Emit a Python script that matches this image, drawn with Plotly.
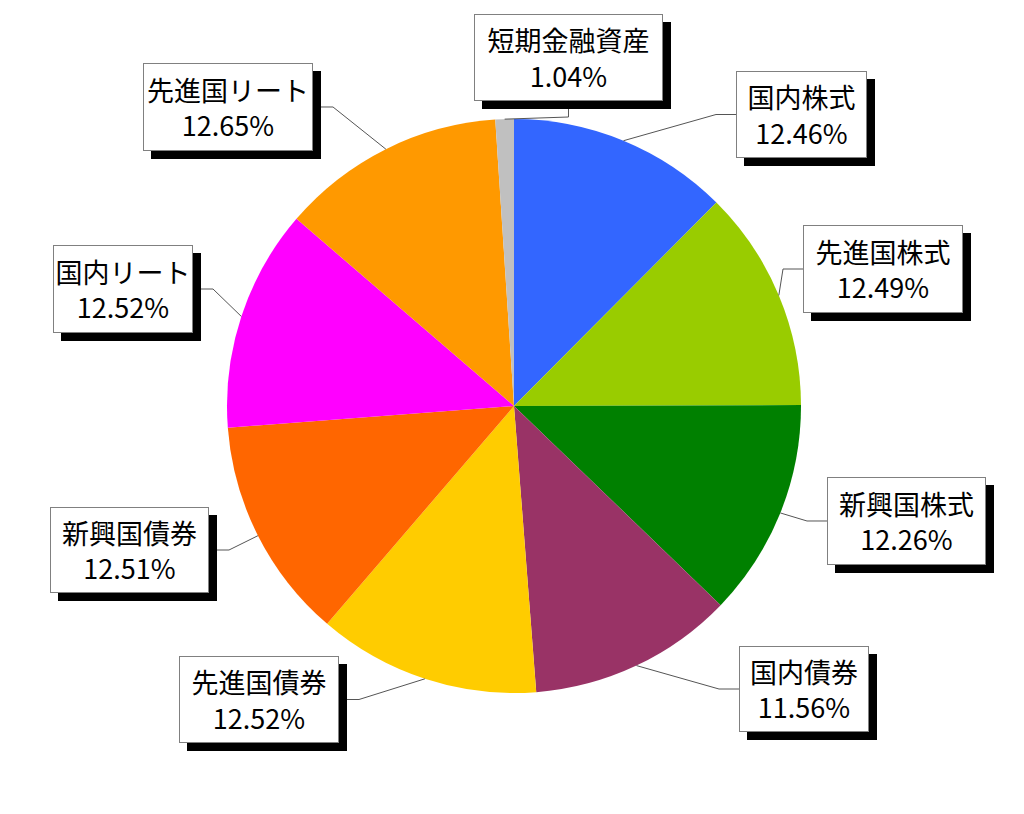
import math
import plotly.graph_objects as go

# asset allocation (clockwise from 12 o'clock)
labels = ['国内株式', '先進国株式', '新興国株式', '国内債券', '先進国債券',
          '新興国債券', '国内リート', '先進国リート', '短期金融資産']
shares = [12.46, 12.49, 12.26, 11.56, 12.52, 12.51, 12.52, 12.65, 1.04]
colors = ['#3366FF', '#99CC00', '#008000', '#993366', '#FFCC00',
          '#FF6600', '#FF00FF', '#FF9900', '#C0C0C0']

# label boxes in pixels: left, top, right, bottom and which side the leader enters
boxes = [
    (736, 71, 867, 158, 'left'),
    (803, 225, 963, 313, 'left'),
    (827, 477, 986, 565, 'left'),
    (739, 646, 869, 732, 'left'),
    (179, 656, 339, 743, 'right'),
    (50, 507, 209, 593, 'right'),
    (53, 245, 193, 333, 'right'),
    (143, 63, 313, 151, 'right'),
    (474, 14, 663, 101, 'bottom'),
]

W, H = 1024, 814
PAGE_MARGIN = 8  # default body margin of the html page
CX, CY, R = 514, 406, 287
SHADOW = 8
FONT = 'Noto Sans CJK JP'


def px(x):
    return (x - PAGE_MARGIN) / W


def py(y):
    return 1 - (y - PAGE_MARGIN) / H


fig = go.Figure()
fig.add_trace(go.Pie(
    labels=labels, values=shares, sort=False, direction='clockwise', rotation=0,
    marker=dict(colors=colors, line=dict(width=0)),
    textinfo='none', hoverinfo='label+percent',
    domain=dict(x=[px(CX - R), px(CX + R)], y=[py(CY + R), py(CY - R)]),
))

shapes = []
annotations = []
total = sum(shares)
cum = 0
for name, val, (l, t, r, b, side) in zip(labels, shares, boxes):
    # leader line from middle of the slice's arc
    mid = (cum + val / 2) / total * 2 * math.pi
    cum += val
    x0 = CX + R * math.sin(mid)
    y0 = CY - R * math.cos(mid)
    my = (t + b) / 2
    if side == 'left':
        pts = [(x0, y0), (l - 20, my), (l, my)]
    elif side == 'right':
        pts = [(x0, y0), (r + 20, my), (r, my)]
    else:
        mx = (l + r) / 2
        pts = [(x0, y0), (mx, b + 16), (mx, b)]
    path = 'M ' + ' L '.join(f'{px(a):.5f},{py(c):.5f}' for a, c in pts)
    shapes.append(dict(type='path', path=path, xref='paper', yref='paper',
                       line=dict(color='#555555', width=1), layer='above'))

    # black drop shadow
    shapes.append(dict(type='rect', xref='paper', yref='paper',
                       x0=px(l + SHADOW), x1=px(r + SHADOW),
                       y0=py(b + SHADOW), y1=py(t + SHADOW),
                       fillcolor='black', line=dict(width=0), layer='above'))

    annotations.append(dict(
        text=f'{name}<br>{val:.2f}%', xref='paper', yref='paper',
        x=px((l + r) / 2), y=py((t + b) / 2), xanchor='center', yanchor='middle',
        showarrow=False, width=r - l - 2, height=b - t - 2, borderpad=0,
        bgcolor='white', bordercolor='#808080', borderwidth=1,
        font=dict(family=FONT, size=27, color='black'),
    ))

fig.update_layout(
    width=W, height=H, margin=dict(l=0, r=0, t=0, b=0),
    paper_bgcolor='white', plot_bgcolor='white', showlegend=False,
    shapes=shapes, annotations=annotations,
)

fig.write_html('out.html')
